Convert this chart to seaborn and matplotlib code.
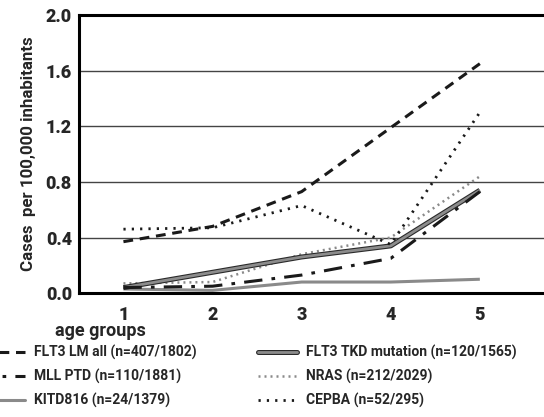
import matplotlib
matplotlib.use("Agg")
import matplotlib.pyplot as plt
import matplotlib.patheffects as pe
from matplotlib.lines import Line2D
import pandas as pd
import seaborn as sns

# data
age_groups = [1, 2, 3, 4, 5]
flt3_lm = [0.37, 0.48, 0.73, 1.19, 1.65]
flt3_tkd = [0.04, 0.15, 0.26, 0.34, 0.74]
mll_ptd = [0.04, 0.05, 0.13, 0.25, 0.73]
nras = [0.07, 0.08, 0.28, 0.40, 0.84]
kitd816 = [0.03, 0.02, 0.08, 0.08, 0.10]
cepba = [0.46, 0.47, 0.63, 0.35, 1.30]
labels = ["FLT3 LM all (n=407/1802)", "MLL PTD (n=110/1881)", "KITD816 (n=24/1379)",
          "FLT3 TKD mutation (n=120/1565)", "NRAS (n=212/2029)", "CEPBA (n=52/295)"]
y_ticks = [0.0, 0.4, 0.8, 1.2, 1.6, 2.0]

series = [flt3_lm, mll_ptd, kitd816, flt3_tkd, nras, cepba]
df = pd.concat([pd.DataFrame({"age": age_groups, "cases": v, "group": lab})
                for lab, v in zip(labels, series)], ignore_index=True)

sns.set_theme(style="white")
plt.rcParams["font.family"] = ["Roboto", "DejaVu Sans"]
plt.rcParams["font.weight"] = "bold"

styles = {
    labels[0]: dict(color="#1a1a1a", lw=2.2, dashes=(3.2, 2.2)),
    labels[1]: dict(color="#1a1a1a", lw=2.2, dashes=(6, 3, 1.2, 3)),
    labels[2]: dict(color="#8a8a8a", lw=2.2),
    labels[3]: dict(color="#8c8c8c", lw=2.0,
                    path_effects=[pe.Stroke(linewidth=3.6, foreground="#2a2a2a"), pe.Normal()]),
    labels[4]: dict(color="#8a8a8a", lw=1.8, dashes=(0.8, 1.6)),
    labels[5]: dict(color="#1a1a1a", lw=2.0, dashes=(0.8, 2.2)),
}

fig = plt.figure(figsize=(5.44, 4.17), dpi=100)
ax = fig.add_axes([0.145, 0.297, 0.855, 0.667])

draw_order = [labels[2], labels[4], labels[3], labels[1], labels[5], labels[0]]
for lab in draw_order:
    st = styles[lab]
    sub = df[df["group"] == lab]
    sns.lineplot(data=sub, x="age", y="cases", ax=ax, color=st["color"],
                 lw=st["lw"], legend=False)
    ln = ax.lines[-1]
    if "dashes" in st:
        ln.set_dashes(st["dashes"])
    if "path_effects" in st:
        ln.set_path_effects(st["path_effects"])
    ln.set_solid_capstyle("butt")

ax.set_xlim(0.5, 5.72)
ax.set_ylim(0, 2.0)
ax.set_yticks(y_ticks)
ax.set_yticklabels([f"{t:.1f}" for t in y_ticks], fontsize=13, fontweight="heavy")
ax.set_xticks(age_groups)
ax.set_xticklabels([str(a) for a in age_groups], fontsize=13, fontweight="heavy")
ax.set_xticks([1.5, 2.5, 3.5, 4.5], minor=True)
ax.tick_params(axis="x", which="major", length=0, pad=9)
ax.tick_params(axis="x", which="minor", length=5, width=2, direction="out", color="black")
ax.tick_params(axis="y", length=4, width=2, direction="out", color="black", pad=1)

for t in y_ticks[1:-1]:
    ax.axhline(t, color="#444444", lw=1, zorder=0)
for side in ["left", "bottom", "top"]:
    ax.spines[side].set_color("black")
    ax.spines[side].set_linewidth(2.2)
ax.spines["right"].set_visible(False)

ax.set_xlabel("")
ax.text(0.047, -0.137, "age groups", transform=ax.transAxes, ha="center", va="center",
        fontsize=13, fontweight="bold")
ax.set_ylabel("Cases  per 100,000 inhabitants", fontsize=12.2, fontweight="bold", labelpad=7)

handles = []
for lab in labels:
    st = styles[lab]
    h = Line2D([0], [0], color=st["color"], lw=st["lw"])
    if lab == labels[1]:
        h.set_linestyle((8.0, st["dashes"]))
    elif "dashes" in st:
        h.set_dashes(st["dashes"])
    if "path_effects" in st:
        h.set_path_effects(st["path_effects"])
    handles.append(h)

leg_kw = dict(loc="upper left", frameon=False, handlelength=2.8, handletextpad=0.7,
              labelspacing=0.65, borderpad=0, borderaxespad=0,
              prop={"size": 10, "weight": "bold"})
fig.legend(handles[:3], labels[:3], bbox_to_anchor=(-0.026, 0.172), **leg_kw)
fig.legend(handles[3:], labels[3:], bbox_to_anchor=(0.474, 0.172), **leg_kw)

fig.savefig("out.png", dpi=100)
